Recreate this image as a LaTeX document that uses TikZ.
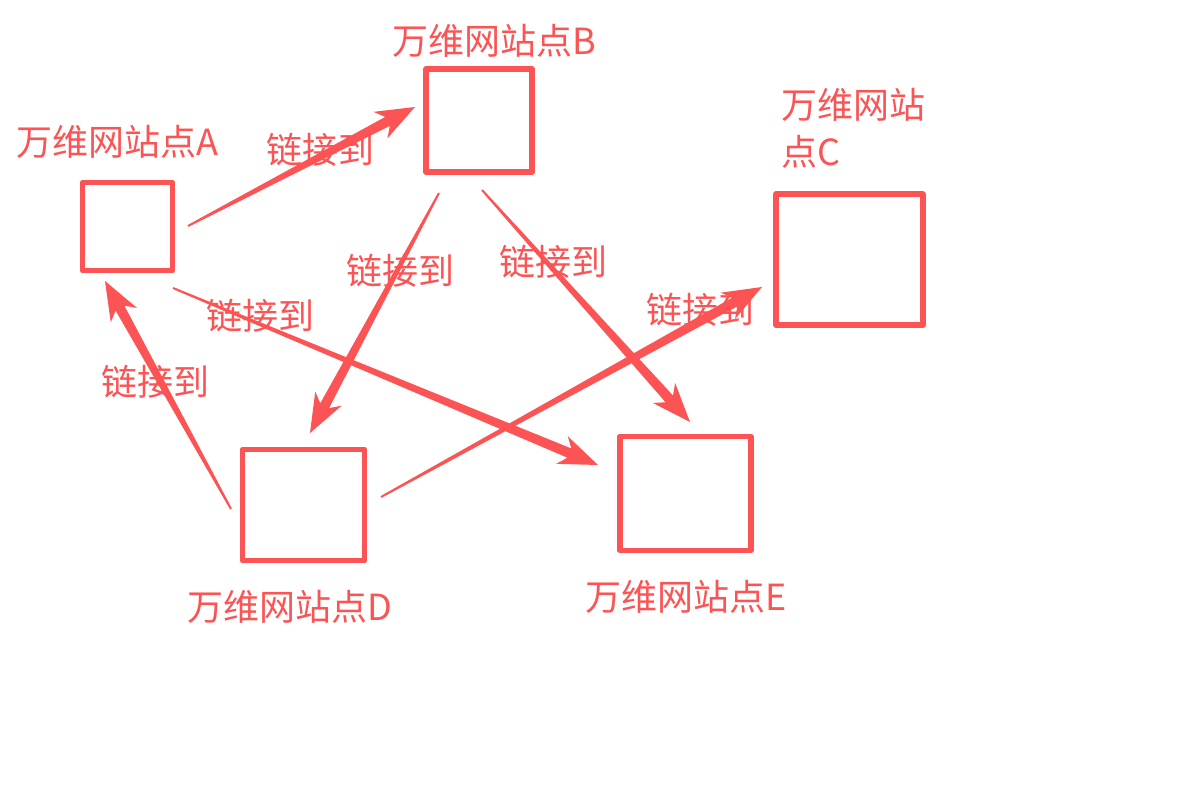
\documentclass[tikz,border=0pt]{standalone}
\usepackage{fontspec}
\newfontfamily\cjk{Noto Sans CJK SC}
\usetikzlibrary{calc}
\definecolor{rd}{RGB}{252,84,84}
\newcommand\taparrow[2]{%
  \fill[rd] ($(#1)!1pt!90:(#2)$)
    -- ($(#2)!31.4pt!-9.2:(#1)$)
    -- ($(#2)!41.8pt!-21:(#1)$)
    -- (#2)
    -- ($(#2)!41.8pt!21:(#1)$)
    -- ($(#2)!31.4pt!9.2:(#1)$)
    -- ($(#1)!1pt!-90:(#2)$) -- cycle;}
\begin{document}
\begin{tikzpicture}[x=1pt,y=-1pt,
  site/.style={draw=rd,line width=5.5pt,line join=round,rectangle,inner sep=0pt},
  lbl/.style={text=rd,font=\cjk\fontsize{36}{47}\selectfont,inner sep=0pt},
  lnk/.style={text=rd,font=\cjk\fontsize{36}{47}\selectfont,inner sep=0pt},
]
\useasboundingbox[fill=white] (0,0) rectangle (1188,795);
% sites
\node[site,minimum width=90pt,minimum height=88pt] (A) at (127.5,226.5) {};
\node[site,minimum width=106pt,minimum height=103pt] (B) at (479,120.5) {};
\node[site,minimum width=147pt,minimum height=131pt] (C) at (849.3,259.7) {};
\node[site,minimum width=122pt,minimum height=111pt] (D) at (303.5,505) {};
\node[site,minimum width=131pt,minimum height=114pt] (E) at (685.3,493.3) {};
% site labels
\node[lbl] (tA) at (117,142) {万维网站点A};
\node[lbl] (tB) at (494,41) {万维网站点B};
\node[lbl,anchor=north west,align=left] (tC) at (781,88) {万维网站\\点C};
\node[lbl] (tD) at (290,607) {万维网站点D};
\node[lbl] (tE) at (686,597) {万维网站点E};
% link labels
\node[lnk] (lAB) at (320,150) {链接到};
\node[lnk] (lBD) at (400,271) {链接到};
\node[lnk] (lBE) at (553,262) {链接到};
\node[lnk] (lAE) at (260,316) {链接到};
\node[lnk] (lDA) at (155,382) {链接到};
\node[lnk] (lDC) at (700,310) {链接到};
% arrow ends
\coordinate (sAB) at (188,226);  \coordinate (eAB) at (415,107);
\coordinate (sBD) at (439,193);  \coordinate (eBD) at (310,433);
\coordinate (sBE) at (482,190);  \coordinate (eBE) at (690,422);
\coordinate (sAE) at (173,288);  \coordinate (eAE) at (598,465);
\coordinate (sDA) at (231,509);  \coordinate (eDA) at (105,281);
\coordinate (sDC) at (381,497);  \coordinate (eDC) at (762,287);
\taparrow{sAB}{eAB}
\taparrow{sBD}{eBD}
\taparrow{sBE}{eBE}
\taparrow{sAE}{eAE}
\taparrow{sDA}{eDA}
\taparrow{sDC}{eDC}
\end{tikzpicture}
\end{document}
